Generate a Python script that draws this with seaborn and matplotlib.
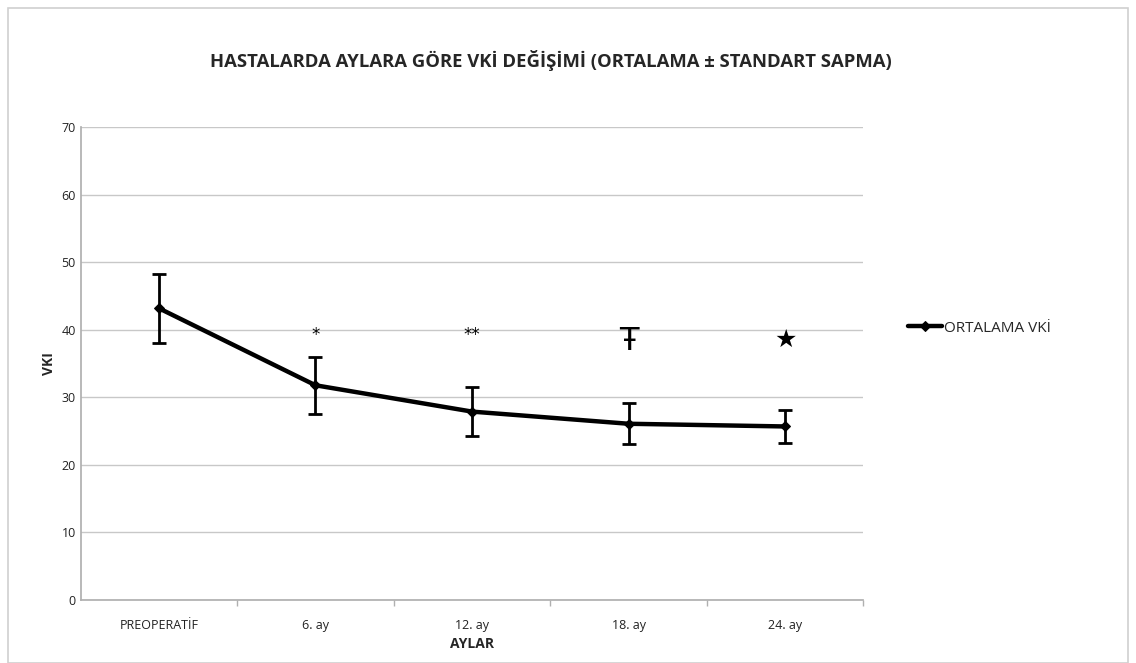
import numpy as np
import pandas as pd
import matplotlib
matplotlib.use("Agg")
import matplotlib.pyplot as plt
import seaborn as sns

# Data
aylar = ["PREOPERATİF", "6. ay", "12. ay", "18. ay", "24. ay"]
ortalama = [43.2, 31.8, 27.9, 26.1, 25.7]
sapma = [5.1, 4.2, 3.6, 3.0, 2.4]
isaretler = ["", "*", "**", "Ŧ", "★"]
isaret_y = [0, 39.3, 39.3, 38.3, 38.5]

df = pd.DataFrame({"AYLAR": aylar, "VKI": ortalama, "SD": sapma})

sns.set_theme(style="white")
plt.rcParams['font.family'] = ['Open Sans', 'DejaVu Sans']

fig = plt.figure(figsize=(11.36, 6.63), dpi=100)
ax = fig.add_axes([0.071, 0.095, 0.689, 0.713])

sns.lineplot(data=df, x="AYLAR", y="VKI", sort=False, color="black",
             linewidth=3.2, marker="D", markersize=5, markeredgecolor="black",
             label="ORTALAMA VKİ", ax=ax)
ax.errorbar(np.arange(len(aylar)), df["VKI"], yerr=df["SD"], fmt="none",
            ecolor="black", elinewidth=2, capsize=5, capthick=2)

for i, (txt, yy) in enumerate(zip(isaretler, isaret_y)):
    if not txt:
        continue
    fs = {"*": 12, "**": 12, "Ŧ": 23, "★": 18}[txt]
    ax.text(i, yy, txt, ha="center", va="center", fontsize=fs,
            family=['DejaVu Sans'], color="black")

ax.set_ylim(0, 70)
ax.set_yticks(range(0, 71, 10))
ax.set_xlim(-0.5, len(aylar) - 0.5)
ax.yaxis.grid(True, color="#c8c8c8", linewidth=1)
for s in ["top", "right"]:
    ax.spines[s].set_visible(False)
ax.spines["left"].set_color("#b0b0b0")
ax.spines["bottom"].set_color("#b0b0b0")
ax.tick_params(axis="both", labelsize=9, colors="#222222", length=0)
ax.set_xticks(np.arange(len(aylar)) + 0.5, minor=True)
ax.tick_params(axis="x", which="minor", length=4, color="#b0b0b0", direction="out", bottom=True)
ax.tick_params(axis="x", pad=14)

ax.set_xlabel("AYLAR", fontsize=10, fontweight="bold", labelpad=3)
ax.set_ylabel("VKI", fontsize=10, fontweight="bold")
fig.suptitle("HASTALARDA AYLARA GÖRE VKİ DEĞİŞİMİ (ORTALAMA ± STANDART SAPMA)",
             x=0.485, y=0.925, fontsize=13.3, fontweight="bold")

leg = ax.legend(loc="center left", bbox_to_anchor=(1.04, 0.575), frameon=False,
                fontsize=11, handlelength=2.2, handletextpad=0.1)

fig.patches.append(plt.Rectangle((0.007, 0.0), 0.986, 0.988, transform=fig.transFigure,
                                 fill=False, edgecolor="#d0d0d0", linewidth=1.2))

fig.savefig("out.png", dpi=100)
